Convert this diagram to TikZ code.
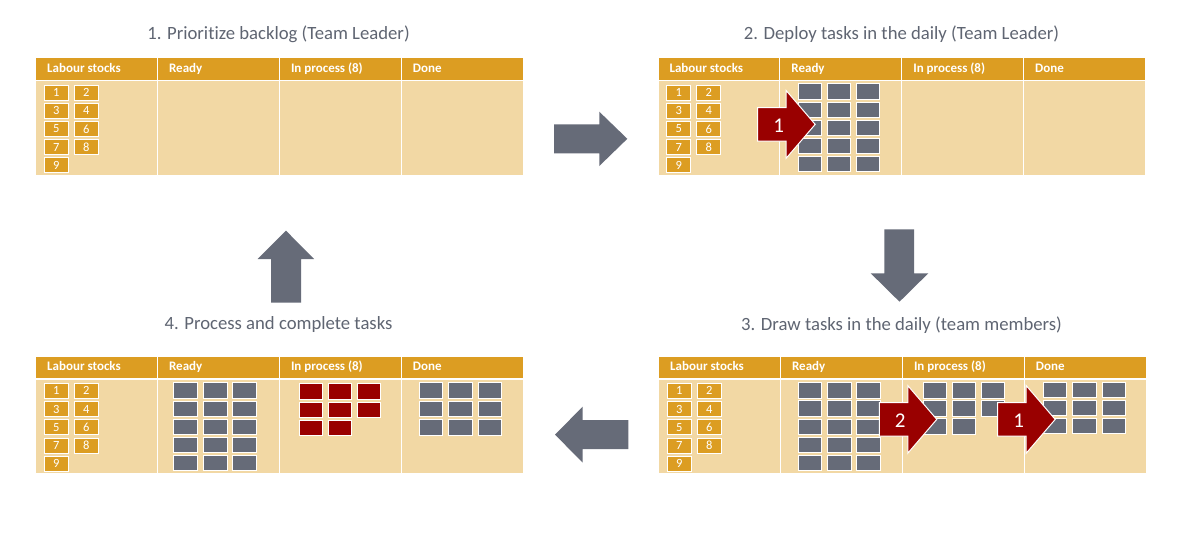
\documentclass[tikz,border=0pt]{standalone}
\usepackage{fontspec}
\setmainfont{Carlito}[Ligatures={NoCommon}]
\definecolor{hdrc}{HTML}{DC9D22}
\definecolor{bodyc}{HTML}{F2D8A4}
\definecolor{taskc}{HTML}{666B78}
\definecolor{redc}{HTML}{990000}
\definecolor{titlec}{HTML}{5F6572}
\definecolor{arrowc}{HTML}{666B78}
\newcommand\kbd[3]{%
  \foreach \i/\lab in {0/Labour stocks,1/Ready,2/In process (8),3/Done}{
    \node[hdr] (#1h\i) at ({#2+\i*121.9},#3) {};
    \node[bdy] (#1b\i) at ({#2+\i*121.9},#3+22.6) {};
    \node[hdrtxt] (#1t\i) at ({#2+\i*121.9+12},#3+15.2) {\lab};
  }
  \foreach \n [evaluate=\n as \srow using {int((\n-1)/2)}, evaluate=\n as \scol using {int(mod(\n-1,2))}] in {1,...,9}{
    \node[stock] (#1s\n) at ({#2+9+\scol*30},{#3+27.3+\srow*18.2}) {\n};
  }
}
\newcommand\tgrid[7]{%
  \foreach \k [evaluate=\k as \trow using {int((\k-1)/3)}, evaluate=\k as \tcol using {int(mod(\k-1,3))}] in {1,...,#7}{
    \node[#2] (#1\k) at ({#3+\tcol*#5},{#4+\trow*#6}) {};
  }
}
\newcommand\redarr[4]{%
  \draw[redarrow] (#2,#3-16.7) -- (#2+28.5,#3-16.7) -- (#2+28.5,#3-33.8) -- (#2+57.5,#3)
    -- (#2+28.5,#3+33.8) -- (#2+28.5,#3+16.7) -- (#2,#3+16.7) -- cycle;
  \node[arrtxt] (#1) at (#2+21,#3+1) {#4};
}
\begin{document}
\begin{tikzpicture}[x=1pt,y=-1pt,
  hdr/.style={draw=white,line width=1.2pt,fill=hdrc,anchor=north west,minimum width=121.9pt,minimum height=22.6pt,inner sep=0pt},
  bdy/.style={draw=white,line width=1.2pt,fill=bodyc,anchor=north west,minimum width=121.9pt,minimum height=95pt,inner sep=0pt},
  hdrtxt/.style={anchor=base west,text=white,font=\fontsize{13}{14}\selectfont\bfseries,inner sep=0pt},
  stock/.style={draw=white,line width=0.8pt,fill=hdrc,text=white,anchor=north west,minimum width=24pt,minimum height=15pt,inner sep=0pt,font=\fontsize{12.5}{13}\selectfont},
  task/.style={draw=white,line width=0.8pt,fill=taskc,anchor=north west,minimum width=23.7pt,minimum height=15.3pt,inner sep=0pt},
  rtask/.style={task,fill=redc},
  ttl/.style={text=titlec,font=\fontsize{18.7}{22}\selectfont,inner sep=0pt},
  bigarrow/.style={fill=arrowc},
  redarrow/.style={fill=redc,draw=white,line width=1pt},
  arrtxt/.style={text=white,font=\fontsize{21}{23}\selectfont,inner sep=0pt}
]
\useasboundingbox[fill=white] (0,0) rectangle (1192,535);

% titles
\node[ttl] (t1) at (278.5,34) {1. Prioritize backlog (Team Leader)};
\node[ttl] (t2) at (901.5,34) {2. Deploy tasks in the daily (Team Leader)};
\node[ttl] (t3) at (901.5,325) {3. Draw tasks in the daily (team members)};
\node[ttl] (t4) at (278.5,325) {4. Process and complete tasks};

% boards
\kbd{a}{35}{57.3}
\kbd{b}{657.3}{57.3}
\kbd{c}{658}{355.7}
\kbd{d}{35}{355.7}

% board 2 tasks
\tgrid{br}{task}{797.7}{83.3}{29}{18.2}{15}
\redarr{bx1}{757.7}{124.4}{1}

% board 3 tasks
\tgrid{cr}{task}{797.7}{382.3}{29.3}{18.1}{15}
\tgrid{cp}{task}{922.7}{382.3}{29}{18}{8}
\tgrid{cd}{task}{1042.7}{381.5}{29.5}{18.3}{9}
\redarr{cx2}{879.3}{419.4}{2}
\redarr{cx1}{997.7}{419.4}{1}

% board 4 tasks
\tgrid{dr}{task}{173.3}{382.3}{29.5}{18.2}{15}
\tgrid{dp}{rtask}{298.7}{383.3}{29}{18.2}{8}
\tgrid{dd}{task}{418.7}{382.3}{29.5}{18.5}{9}

% big arrows between stages
\fill[bigarrow] (554,124.3) -- (599.3,124.3) -- (599.3,111.7) -- (627.3,138.8) -- (599.3,166) -- (599.3,153.3) -- (554,153.3) -- cycle;
\fill[bigarrow] (884.3,229.3) -- (914,229.3) -- (914,273.3) -- (928.3,273.3) -- (899.5,301.7) -- (870.7,273.3) -- (884.3,273.3) -- cycle;
\fill[bigarrow] (628.3,420) -- (582.7,420) -- (582.7,406.7) -- (555,434.6) -- (582.7,462.7) -- (582.7,449) -- (628.3,449) -- cycle;
\fill[bigarrow] (271,302.7) -- (271,259) -- (257.7,259) -- (286,230.7) -- (314,259) -- (301,259) -- (301,302.7) -- cycle;
\end{tikzpicture}
\end{document}
